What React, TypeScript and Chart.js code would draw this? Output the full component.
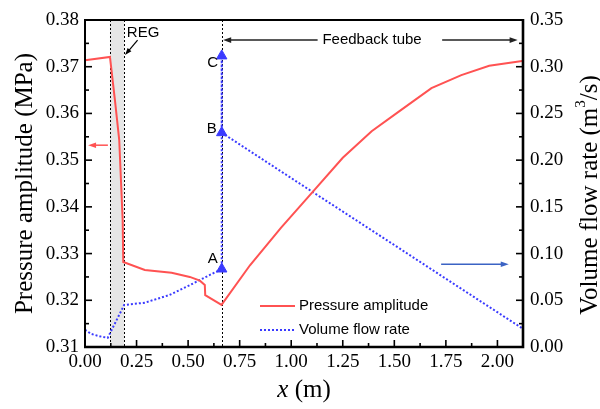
import React, { useEffect, useRef } from "react";
import { Chart, registerables } from "chart.js";

Chart.register(...registerables);

// ---- data ----
const pressureX = [0, 0.121, 0.145, 0.166, 0.1826, 0.1855, 0.29, 0.42, 0.508, 0.557, 0.581, 0.583, 0.662, 0.8, 0.95, 1.1, 1.25, 1.39, 1.525, 1.68, 1.825, 1.96, 2.12];
const pressureMPa = [0.3714, 0.3721, 0.3629, 0.3543, 0.3372, 0.3282, 0.3265, 0.3259, 0.325, 0.3242, 0.3233, 0.3211, 0.319, 0.3275, 0.3355, 0.343, 0.3505, 0.3562, 0.3605, 0.3654, 0.3682, 0.3702, 0.3712];

const flowX = [0, 0.03, 0.07, 0.11, 0.19, 0.29, 0.41, 0.51, 0.573, 0.663, 0.663, 0.663, 0.95, 1.25, 1.525, 1.82, 2.12];
const flowRate = [0.0185, 0.014, 0.0115, 0.0098, 0.045, 0.0474, 0.0557, 0.0664, 0.0735, 0.0835, 0.3116, 0.2294, 0.188, 0.145, 0.1055, 0.063, 0.02];
const flowPointLabels = ["", "", "", "", "", "", "", "", "", "A", "C", "B", "", "", "", "", ""];

const xTickValues = [0, 0.25, 0.5, 0.75, 1.0, 1.25, 1.5, 1.75, 2.0];
const pressureTickValues = [0.31, 0.32, 0.33, 0.34, 0.35, 0.36, 0.37, 0.38];
const flowTickValues = [0, 0.05, 0.1, 0.15, 0.2, 0.25, 0.3, 0.35];

const regBand = [0.121, 0.19];
const tubeStartX = 0.663;
const X_MIN = 0;
const X_MAX = 2.124;

const seriesNames = ["Pressure amplitude", "Volume flow rate"];

// ---- styles ----
const RED = "#ff5252";
const BLUE = "#3a3aff";
const ARROW_BLUE = "#3b63c4";
const SERIF = '"Liberation Serif", "Times New Roman", serif';
const SANS = '"Liberation Sans", Arial, sans-serif';
const labelOffsets: Record<string, [number, number]> = { A: [-9, -10], B: [-10, -4], C: [-9, 7] };

function drawArrow(ctx: CanvasRenderingContext2D, x1: number, y1: number, x2: number, y2: number, color: string, lw = 1.5, head = 8) {
  const ang = Math.atan2(y2 - y1, x2 - x1);
  ctx.save();
  ctx.strokeStyle = color;
  ctx.fillStyle = color;
  ctx.lineWidth = lw;
  ctx.setLineDash([]);
  ctx.beginPath();
  ctx.moveTo(x1, y1);
  ctx.lineTo(x2 - Math.cos(ang) * head * 0.6, y2 - Math.sin(ang) * head * 0.6);
  ctx.stroke();
  ctx.beginPath();
  ctx.moveTo(x2, y2);
  ctx.lineTo(x2 - Math.cos(ang) * head + Math.sin(ang) * head * 0.35, y2 - Math.sin(ang) * head - Math.cos(ang) * head * 0.35);
  ctx.lineTo(x2 - Math.cos(ang) * head - Math.sin(ang) * head * 0.35, y2 - Math.sin(ang) * head + Math.cos(ang) * head * 0.35);
  ctx.closePath();
  ctx.fill();
  ctx.restore();
}

const overlayPlugin = {
  id: "overlay",
  beforeDatasetsDraw(chart: any) {
    const { ctx, chartArea: a, scales } = chart;
    const x = scales.x;
    ctx.save();
    const x0 = x.getPixelForValue(regBand[0]);
    const x1 = x.getPixelForValue(regBand[1]);
    ctx.fillStyle = "#e6e6e6";
    ctx.fillRect(x0, a.top, x1 - x0, a.bottom - a.top);
    ctx.strokeStyle = "#000";
    ctx.lineWidth = 1;
    ctx.setLineDash([2, 2]);
    for (const v of [regBand[0], regBand[1], tubeStartX]) {
      const px = Math.round(x.getPixelForValue(v)) + 0.5;
      ctx.beginPath();
      ctx.moveTo(px, a.top);
      ctx.lineTo(px, a.bottom);
      ctx.stroke();
    }
    ctx.restore();
  },
  afterDraw(chart: any) {
    const { ctx, chartArea: a, scales } = chart;
    const x = scales.x, yP = scales.yP, yQ = scales.yQ;
    ctx.save();
    // frame
    ctx.strokeStyle = "#000";
    ctx.setLineDash([]);
    ctx.lineWidth = 2;
    ctx.strokeRect(a.left, a.top, a.right - a.left, a.bottom - a.top);
    ctx.lineWidth = 2.6;
    ctx.beginPath();
    ctx.moveTo(a.left - 1, a.bottom);
    ctx.lineTo(a.right, a.bottom);
    ctx.lineTo(a.right, a.top - 1);
    ctx.stroke();
    // inward ticks
    ctx.lineWidth = 1.6;
    const tick = (x1: number, y1: number, x2: number, y2: number) => {
      ctx.beginPath(); ctx.moveTo(x1, y1); ctx.lineTo(x2, y2); ctx.stroke();
    };
    const withMinor = (vals: number[]) => {
      const out: { v: number; major: boolean }[] = [];
      vals.forEach((v, i) => {
        out.push({ v, major: true });
        const step = i + 1 < vals.length ? vals[i + 1] - v : vals[1] - vals[0];
        out.push({ v: v + step / 2, major: false });
      });
      return out;
    };
    for (const t of withMinor(xTickValues)) {
      if (t.v > X_MAX - 0.01) continue;
      const px = x.getPixelForValue(t.v);
      tick(px, a.bottom, px, a.bottom - (t.major ? 7 : 4));
    }
    for (const t of withMinor(pressureTickValues)) {
      if (t.v > 0.38 + 1e-9) continue;
      const py = yP.getPixelForValue(t.v);
      tick(a.left, py, a.left + (t.major ? 7 : 4), py);
    }
    for (const t of withMinor(flowTickValues)) {
      if (t.v > 0.35 + 1e-9) continue;
      const py = yQ.getPixelForValue(t.v);
      tick(a.right, py, a.right - (t.major ? 7 : 4), py);
    }

    // point labels A, B, C
    const meta = chart.getDatasetMeta(1);
    ctx.fillStyle = "#000";
    ctx.font = `15px ${SANS}`;
    ctx.textAlign = "center";
    ctx.textBaseline = "middle";
    flowPointLabels.forEach((lab, i) => {
      if (!lab) return;
      const el = meta.data[i];
      const off = labelOffsets[lab] || [0, 0];
      ctx.fillText(lab, el.x + off[0], el.y + off[1]);
    });

    // REG label and arrow
    ctx.textAlign = "left";
    ctx.fillText("REG", x.getPixelForValue(0.203), yP.getPixelForValue(0.3772));
    drawArrow(ctx, x.getPixelForValue(0.255), yP.getPixelForValue(0.3757), x.getPixelForValue(0.194), yP.getPixelForValue(0.3725), "#000", 1.2, 7);

    // Feedback tube label and arrows
    const fy = yP.getPixelForValue(0.3757);
    ctx.textAlign = "center";
    ctx.fillText("Feedback tube", x.getPixelForValue(1.392), fy);
    drawArrow(ctx, x.getPixelForValue(1.128), fy, x.getPixelForValue(0.67), fy, "#222", 1.5, 8);
    drawArrow(ctx, x.getPixelForValue(1.732), fy, x.getPixelForValue(2.098), fy, "#222", 1.5, 8);

    // axis indicator arrows
    drawArrow(ctx, x.getPixelForValue(0.111), yP.getPixelForValue(0.3532), x.getPixelForValue(0.015), yP.getPixelForValue(0.3532), RED, 1.5, 8);
    drawArrow(ctx, x.getPixelForValue(1.727), yQ.getPixelForValue(0.0885), x.getPixelForValue(2.055), yQ.getPixelForValue(0.0885), ARROW_BLUE, 1.5, 8);

    // legend
    const lx0 = a.left + 175, lx1 = a.left + 210, tx = a.left + 214;
    const rows = [a.bottom - 41, a.bottom - 17];
    ctx.lineWidth = 2;
    ctx.strokeStyle = RED;
    ctx.setLineDash([]);
    tick(lx0, rows[0], lx1, rows[0]);
    ctx.strokeStyle = BLUE;
    ctx.setLineDash([2, 2]);
    tick(lx0, rows[1], lx1, rows[1]);
    ctx.setLineDash([]);
    ctx.fillStyle = "#000";
    ctx.textAlign = "left";
    ctx.font = `15px ${SANS}`;
    ctx.fillText(seriesNames[0], tx, rows[0]);
    ctx.fillText(seriesNames[1], tx, rows[1]);

    // axis titles
    const TF = 25;
    ctx.save();
    ctx.translate(25, (a.top + a.bottom) / 2);
    ctx.rotate(-Math.PI / 2);
    ctx.font = `${TF}px ${SERIF}`;
    ctx.textAlign = "center";
    ctx.textBaseline = "middle";
    ctx.fillText("Pressure amplitude (MPa)", 0, 0);
    ctx.restore();

    ctx.save();
    ctx.translate(590, 195);
    ctx.rotate(-Math.PI / 2);
    ctx.textBaseline = "middle";
    ctx.textAlign = "left";
    const p1 = "Volume flow rate (m", p2 = "3", p3 = "/s)";
    ctx.font = `${TF}px ${SERIF}`;
    const w1 = ctx.measureText(p1).width, w3 = ctx.measureText(p3).width;
    ctx.font = `15px ${SERIF}`;
    const w2 = ctx.measureText(p2).width;
    let cx = -(w1 + w2 + w3) / 2;
    ctx.font = `${TF}px ${SERIF}`;
    ctx.fillText(p1, cx, 0);
    cx += w1;
    ctx.font = `15px ${SERIF}`;
    ctx.fillText(p2, cx, -9);
    cx += w2;
    ctx.font = `${TF}px ${SERIF}`;
    ctx.fillText(p3, cx, 0);
    ctx.restore();

    ctx.save();
    ctx.textBaseline = "middle";
    ctx.textAlign = "left";
    ctx.font = `italic ${TF}px ${SERIF}`;
    const xa = "x";
    const wa = ctx.measureText(xa).width;
    ctx.font = `${TF}px ${SERIF}`;
    const xb = " (m)";
    const wb = ctx.measureText(xb).width;
    const bx = (a.left + a.right) / 2 - (wa + wb) / 2;
    ctx.font = `italic ${TF}px ${SERIF}`;
    ctx.fillText(xa, bx, 390);
    ctx.font = `${TF}px ${SERIF}`;
    ctx.fillText(xb, bx + wa, 390);
    ctx.restore();

    ctx.restore();
  },
};

export default function App() {
  const ref = useRef<HTMLCanvasElement | null>(null);
  useEffect(() => {
    document.body.style.margin = "0";
    const canvas = ref.current;
    if (!canvas) return;
    const tickFont = { family: SERIF, size: 19 };
    const chart = new Chart(canvas, {
      type: "line",
      data: {
        datasets: [
          {
            label: seriesNames[0],
            data: pressureX.map((x, i) => ({ x, y: pressureMPa[i] })),
            yAxisID: "yP",
            borderColor: RED,
            backgroundColor: RED,
            borderWidth: 2,
            pointRadius: 0,
            tension: 0,
            fill: false,
          },
          {
            label: seriesNames[1],
            data: flowX.map((x, i) => ({ x, y: flowRate[i] })),
            yAxisID: "yQ",
            borderColor: BLUE,
            backgroundColor: BLUE,
            borderWidth: 2,
            borderDash: [2, 2],
            pointStyle: "triangle",
            pointRadius: (c: any) => (flowPointLabels[c.dataIndex] ? 6 : 0),
            pointBackgroundColor: BLUE,
            pointBorderColor: BLUE,
            pointBorderWidth: 1,
            tension: 0,
            fill: false,
          },
        ],
      },
      options: {
        responsive: false,
        animation: false,
        events: [],
        layout: { padding: { top: 20, left: 0, right: 0, bottom: 0 } },
        plugins: { legend: { display: false }, tooltip: { enabled: false } },
        scales: {
          x: {
            type: "linear",
            position: "bottom",
            min: X_MIN,
            max: X_MAX,
            grid: { display: false, drawTicks: false },
            border: { display: false },
            ticks: {
              font: tickFont,
              color: "#000",
              padding: 4,
              autoSkip: false,
              maxRotation: 0,
              callback: (v: any) => Number(v).toFixed(2),
            },
            afterBuildTicks: (s: any) => {
              s.ticks = xTickValues.map((value) => ({ value }));
            },
            afterFit: (s: any) => {
              s.height = 62;
            },
          },
          yP: {
            type: "linear",
            position: "left",
            min: 0.31,
            max: 0.38,
            grid: { display: false, drawTicks: false },
            border: { display: false },
            ticks: {
              font: tickFont,
              color: "#000",
              padding: 6,
              autoSkip: false,
              callback: (v: any) => Number(v).toFixed(2),
            },
            afterBuildTicks: (s: any) => {
              s.ticks = pressureTickValues.map((value) => ({ value }));
            },
            afterFit: (s: any) => {
              s.width = 85;
            },
          },
          yQ: {
            type: "linear",
            position: "right",
            min: 0,
            max: 0.35,
            grid: { display: false, drawTicks: false },
            border: { display: false },
            ticks: {
              font: tickFont,
              color: "#000",
              padding: 7,
              autoSkip: false,
              callback: (v: any) => Number(v).toFixed(2),
            },
            afterBuildTicks: (s: any) => {
              s.ticks = flowTickValues.map((value) => ({ value }));
            },
            afterFit: (s: any) => {
              s.width = 77;
            },
          },
        },
      },
      plugins: [overlayPlugin],
    } as any);
    return () => chart.destroy();
  }, []);
  return (
    <div style={{ width: 600, height: 409 }}>
      <canvas ref={ref} width={600} height={409} style={{ display: "block" }} />
    </div>
  );
}
